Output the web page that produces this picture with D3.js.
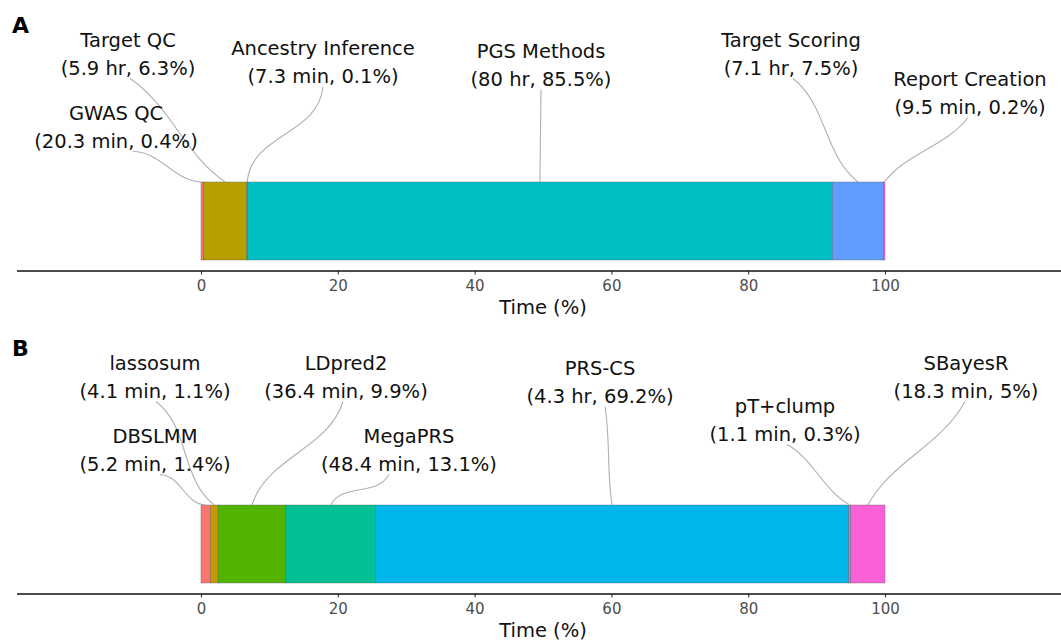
<!DOCTYPE html>
<html>
<head>
<meta charset="utf-8">
<script src="https://cdn.jsdelivr.net/npm/d3@7"></script>
<style>
  html, body { margin: 0; padding: 0; background: #fff; }
  svg { display: block; font-family: "DejaVu Sans", sans-serif; }
</style>
</head>
<body>
<svg id="chart" width="1061" height="641"></svg>
<script>
// ---- Panel A: pipeline steps ----
const stepNames = ["GWAS QC", "Target QC", "Ancestry Inference", "PGS Methods", "Target Scoring", "Report Creation"];
const stepPct   = [0.4, 6.3, 0.1, 85.5, 7.5, 0.2];
const stepTime  = ["20.3 min", "5.9 hr", "7.3 min", "80 hr", "7.1 hr", "9.5 min"];
const stepColors = ["#F8766D", "#B79F00", "#00BA38", "#00BFC4", "#619CFF", "#F564E3"];

// ---- Panel B: PGS methods ----
const methodNames = ["DBSLMM", "lassosum", "LDpred2", "MegaPRS", "PRS-CS", "pT+clump", "SBayesR"];
const methodPct   = [1.4, 1.1, 9.9, 13.1, 69.2, 0.3, 5];
const methodTime  = ["5.2 min", "4.1 min", "36.4 min", "48.4 min", "4.3 hr", "1.1 min", "18.3 min"];
const methodColors = ["#F8766D", "#C49A00", "#53B400", "#00C094", "#00B6EB", "#A58AFF", "#FB61D7"];

const xTicks = [0, 20, 40, 60, 80, 100];
const axisTitle = "Time (%)";

// Label placement (px within each panel): centre x, first baseline,
// offset of the leader start from centre, and leader bend.
const stepLabelLayout = [
  { cx: 116, y: 120, sx: 17, bend: 0.15 },
  { cx: 128, y: 47,  sx: 2,  bend: 0.08 },
  { cx: 323, y: 55,  sx: 0,  bend: 0.22 },
  { cx: 541, y: 58,  sx: 0,  bend: 0 },
  { cx: 791, y: 47,  sx: 2,  bend: 0.12 },
  { cx: 970, y: 86,  sx: -2, bend: 0.09 }
];
const methodLabelLayout = [
  { cx: 155, y: 120, sx: 5,   bend: 0.2 },
  { cx: 155, y: 47,  sx: 1,   bend: 0.14 },
  { cx: 346, y: 47,  sx: -3,  bend: 0.15 },
  { cx: 409, y: 120, sx: -20, bend: 0.22 },
  { cx: 600, y: 52,  sx: 5,   bend: 0.03 },
  { cx: 785, y: 90,  sx: 2,   bend: 0.09 },
  { cx: 966, y: 47,  sx: -1,  bend: 0.09 }
];

const W = 1061;
const x = d3.scaleLinear().domain([0, 100]).range([201, 885]);
const svg = d3.select("#chart");

const BAR_TOP = 182, BAR_H = 78, AXIS_Y = 271;
const LINE_GAP = 27.5;

function drawPanel(offsetY, letter, names, pct, times, colors, layout) {
  const g = svg.append("g").attr("transform", `translate(0,${offsetY})`);

  const ends = d3.cumsum(pct);
  const segs = names.map((n, i) => ({
    name: n, pct: pct[i], time: times[i], color: colors[i],
    x0: ends[i] - pct[i], x1: ends[i], lay: layout[i]
  }));

  // panel tag
  g.append("text")
    .attr("x", 12).attr("y", 33)
    .attr("font-size", 22).attr("font-weight", "bold")
    .attr("fill", "#000")
    .text(letter);

  // stacked bar
  g.append("g").selectAll("rect")
    .data(segs)
    .join("rect")
    .attr("x", d => x(d.x0))
    .attr("width", d => Math.max(0.7, x(d.x1) - x(d.x0)))
    .attr("y", BAR_TOP)
    .attr("height", BAR_H)
    .attr("fill", d => d.color)
    .attr("stroke", "#555")
    .attr("stroke-opacity", 0.7)
    .attr("stroke-width", 0.5);

  // leader lines from label to segment midpoint on the bar top
  g.append("g").selectAll("path")
    .data(segs)
    .join("path")
    .attr("fill", "none")
    .attr("stroke", "#b0b0b0")
    .attr("stroke-width", 1.1)
    .attr("d", d => {
      const x0 = d.lay.cx + d.lay.sx, y0 = d.lay.y + LINE_GAP + 4;
      const x3 = x((d.x0 + d.x1) / 2), y3 = BAR_TOP;
      const dx = x3 - x0, dy = y3 - y0, b = d.lay.bend;
      const ox = b * dy, oy = -b * dx;
      const p = d3.path();
      p.moveTo(x0, y0);
      p.bezierCurveTo(x0 + dx / 3 + ox, y0 + dy / 3 + oy,
                      x0 + 2 * dx / 3 - ox, y0 + 2 * dy / 3 - oy,
                      x3, y3);
      return p.toString();
    });

  // two-line labels
  const lab = g.append("g").selectAll("text")
    .data(segs)
    .join("text")
    .attr("text-anchor", "middle")
    .attr("font-size", 19.5)
    .attr("fill", "#111");
  lab.append("tspan")
    .attr("x", d => d.lay.cx).attr("y", d => d.lay.y)
    .text(d => d.name);
  lab.append("tspan")
    .attr("x", d => d.lay.cx).attr("y", d => d.lay.y + LINE_GAP)
    .text(d => `(${d.time}, ${d.pct}%)`);

  // x axis
  const axis = d3.axisBottom(x).tickValues(xTicks).tickSize(3.5).tickPadding(6).tickSizeOuter(0);
  const ax = g.append("g").attr("transform", `translate(0,${AXIS_Y})`).call(axis);
  ax.select(".domain").remove();
  ax.selectAll(".tick line").attr("stroke", "#333").attr("stroke-width", 1.1);
  ax.selectAll(".tick text")
    .attr("fill", "#4d4d4d")
    .attr("font-size", 15)
    .attr("font-family", "DejaVu Sans, sans-serif");
  g.append("line")
    .attr("x1", 17).attr("x2", W)
    .attr("y1", AXIS_Y).attr("y2", AXIS_Y)
    .attr("stroke", "#111").attr("stroke-width", 1.6);

  g.append("text")
    .attr("x", x(50)).attr("y", 314)
    .attr("text-anchor", "middle")
    .attr("font-size", 19.5)
    .attr("fill", "#111")
    .text(axisTitle);
}

drawPanel(0, "A", stepNames, stepPct, stepTime, stepColors, stepLabelLayout);
drawPanel(323, "B", methodNames, methodPct, methodTime, methodColors, methodLabelLayout);
</script>
</body>
</html>
